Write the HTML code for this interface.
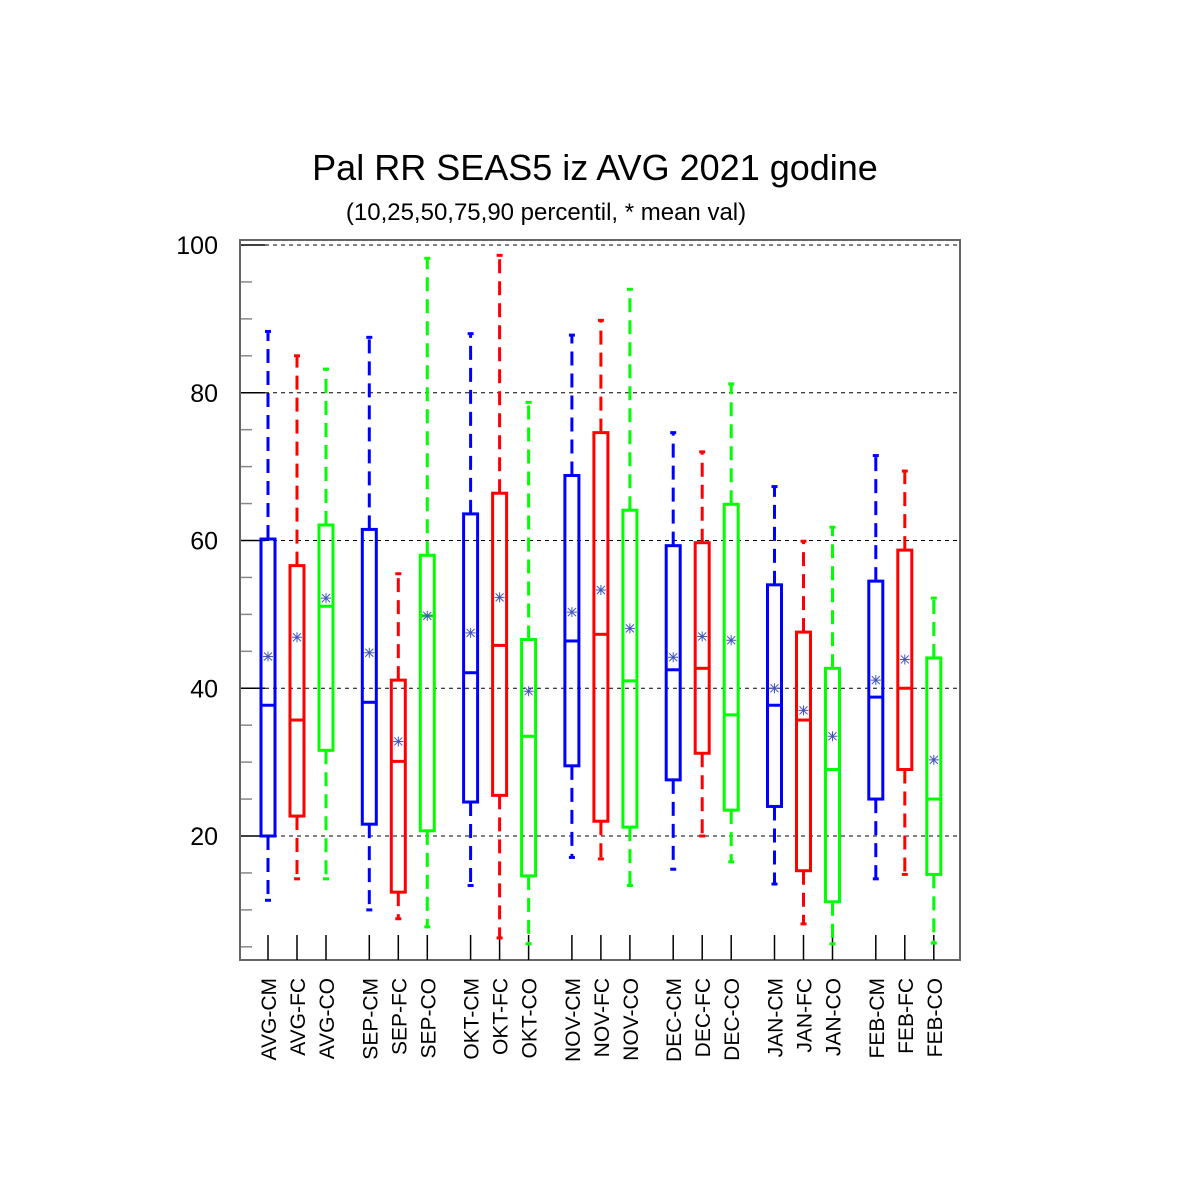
<!DOCTYPE html>
<html><head><meta charset="utf-8"><style>
html,body{margin:0;padding:0;background:#fff;}
svg{display:block;font-family:"Liberation Sans",sans-serif;}
</style></head><body>
<svg id="chart" width="1200" height="1200" viewBox="0 0 1200 1200" xmlns="http://www.w3.org/2000/svg">
<rect width="1200" height="1200" fill="#fff"/>
<text x="595" y="180" font-size="36" text-anchor="middle">Pal RR SEAS5 iz AVG 2021 godine</text>
<text x="546" y="220" font-size="24" text-anchor="middle">(10,25,50,75,90 percentil, * mean val)</text>
<g id="grid"></g><g id="axes"></g><g id="marks"></g>
</svg>
<script>
const categories=["AVG-CM","AVG-FC","AVG-CO","SEP-CM","SEP-FC","SEP-CO","OKT-CM","OKT-FC","OKT-CO","NOV-CM","NOV-FC","NOV-CO","DEC-CM","DEC-FC","DEC-CO","JAN-CM","JAN-FC","JAN-CO","FEB-CM","FEB-FC","FEB-CO"];
const p10=[11.3,14.2,14.2,10,8.8,7.7,13.3,6.2,5.4,17.1,16.9,13.3,15.5,20,16.5,13.5,8.1,5.4,14.2,14.8,5.5];
const p25=[20,22.7,31.6,21.6,12.4,20.7,24.6,25.5,14.6,29.5,22,21.2,27.6,31.2,23.5,24,15.3,11.1,25,29,14.8];
const p50=[37.7,35.7,51.1,38.1,30.1,49.8,42.1,45.8,33.5,46.4,47.3,41,42.5,42.7,36.4,37.7,35.7,29,38.8,40,25];
const p75=[60.2,56.6,62.1,61.5,41.1,58,63.6,66.4,46.6,68.8,74.6,64.1,59.3,59.7,64.9,54,47.6,42.7,54.5,58.7,44.1];
const p90=[88.3,85,83.2,87.5,55.5,98.2,88,98.6,78.7,87.8,89.8,94,74.6,72,81.2,67.3,59.9,61.8,71.5,69.4,52.2];
const means=[44.3,46.9,52.2,44.8,32.8,49.8,47.5,52.3,39.6,50.3,53.3,48.1,44.2,47,46.5,40,37,33.5,41.1,43.9,30.3];
const yTicks=[20,40,60,80,100];
const colors=["#0000ff","#ff0000","#00ff00"];
const NS="http://www.w3.org/2000/svg";
function y(v){return 983.75-7.3875*v;}
function x(i){const g=Math.floor(i/3),k=i%3;return 268+g*101.3+k*29;}
function mk(parent,tag,attrs){const e=document.createElementNS(NS,tag);for(const k in attrs)e.setAttribute(k,attrs[k]);document.getElementById(parent).appendChild(e);return e;}
// grid
for(const t of yTicks){
 const g=mk('grid','line',{x1:265,x2:960,y1:y(t),y2:y(t),stroke:'#000','stroke-width':1,'stroke-dasharray':'4,4'});
 
 
 const tk=mk('axes','line',{x1:240,x2:265,y1:y(t),y2:y(t),stroke:'#000','stroke-width':1.5});
 
 
 const lb=mk('axes','text',{x:218,y:y(t)+9,'font-size':25,'text-anchor':'end'});
 lb.textContent=t;
 
 
}
for(let v=5;v<100;v+=5){if(v%20===0)continue;
 const m=mk('axes','line',{x1:240,x2:252,y1:y(v),y2:y(v),stroke:'#888','stroke-width':1.5});
 
 
}
const fr=mk('axes','rect',{x:240,y:240,width:720,height:720,fill:'none',stroke:'#666','stroke-width':2});


categories.forEach((c,i)=>{
 const cx=x(i),col=colors[i%3];
 const tk=mk('axes','line',{x1:cx,x2:cx,y1:935,y2:960,stroke:'#000','stroke-width':1.5});
 
 
 const lb=mk('axes','text',{x:0,y:0,'font-size':21,'text-anchor':'end',transform:'translate('+(cx+8)+',978) rotate(-90)'});
 lb.textContent=c;
 
 
 const w1=mk('marks','line',{x1:cx,x2:cx,y1:y(p75[i]),y2:y(p90[i]),stroke:col,'stroke-width':3,'stroke-dasharray':'14,8'});
 
 
 const w2=mk('marks','line',{x1:cx,x2:cx,y1:y(p25[i]),y2:y(p10[i]),stroke:col,'stroke-width':3,'stroke-dasharray':'14,8'});
 
 
 const c1=mk('marks','line',{x1:cx-3,x2:cx+3,y1:y(p90[i]),y2:y(p90[i]),stroke:col,'stroke-width':3});
 
 
 const c2=mk('marks','line',{x1:cx-3,x2:cx+3,y1:y(p10[i]),y2:y(p10[i]),stroke:col,'stroke-width':3});
 
 
 const b=mk('marks','rect',{x:cx-7,y:y(p75[i]),width:14,height:y(p25[i])-y(p75[i]),fill:'none',stroke:col,'stroke-width':3});
 
 
 const md=mk('marks','line',{x1:cx-7,x2:cx+7,y1:y(p50[i]),y2:y(p50[i]),stroke:col,'stroke-width':3});
 
 
 const my=y(means[i]);
 const mm=mk('marks','path',{d:'M'+(cx-5)+' '+my+'h10M'+cx+' '+(my-5)+'v10M'+(cx-4)+' '+(my-4)+'l8 8M'+(cx+4)+' '+(my-4)+'l-8 8',stroke:'#4455bb','stroke-width':1,fill:'none'});
 
 
});
</script>
</body></html>
